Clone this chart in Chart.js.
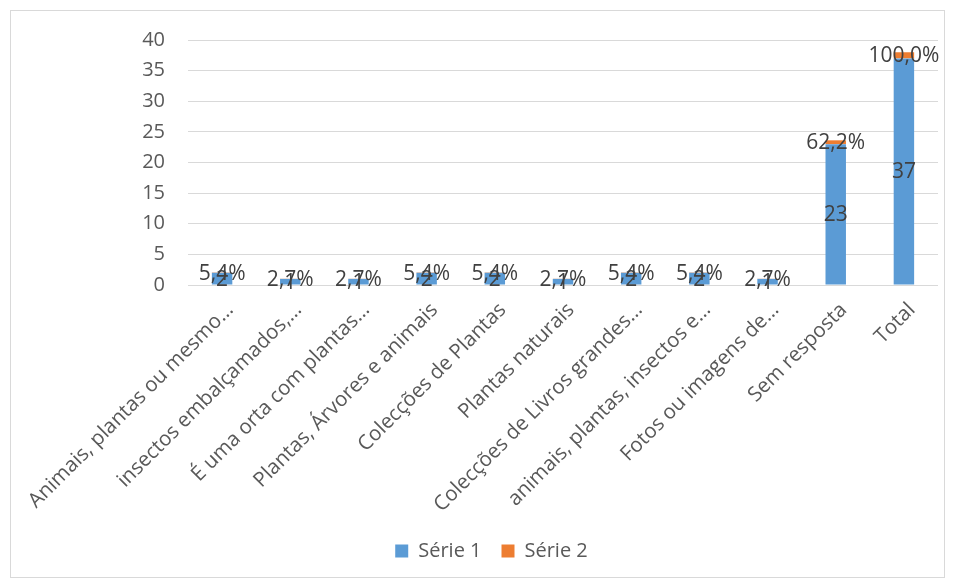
<!DOCTYPE html>
<html>
<head>
<meta charset="utf-8">
<script src="https://cdn.jsdelivr.net/npm/chart.js@4.4.1/dist/chart.umd.min.js"></script>
<style>
    html, body { margin: 0; padding: 0; background: #fff; }
    #box {
        position: absolute; left: 10px; top: 10px;
        width: 933px; height: 566px;
        border: 1px solid #d9d9d9;
    }
</style>
</head>
<body>
<div id="box"><canvas id="chart" width="933" height="566"></canvas></div>
<script>
// Categories (as truncated in the original chart)
const categories = [
    'Animais, plantas ou mesmo…',
    'insectos embalçamados,…',
    'É uma orta com plantas…',
    'Plantas, Árvores e animais',
    'Colecções de Plantas',
    'Plantas naturais',
    'Colecções de Livros grandes…',
    'animais, plantas, insectos e…',
    'Fotos ou imagens de…',
    'Sem resposta',
    'Total'
];

// Série 1: counts
const serie1 = [2, 1, 1, 2, 2, 1, 2, 2, 1, 23, 37];
// Série 2: share of total (shown as percent)
const serie2 = [0.054, 0.027, 0.027, 0.054, 0.054, 0.027, 0.054, 0.054, 0.027, 0.622, 1.0];

const yTicks = [0, 5, 10, 15, 20, 25, 30, 35, 40];

const FONT = "'Open Sans', sans-serif";

function fmtPercent(v) {
    return (v * 100).toFixed(1).replace('.', ',') + '%';
}

// Draw value labels centred in each bar segment
const segmentLabels = {
    id: 'segmentLabels',
    afterDatasetsDraw(chart) {
        const ctx = chart.ctx;
        ctx.save();
        ctx.font = '21px ' + FONT;
        ctx.fillStyle = '#404040';
        ctx.textAlign = 'center';
        ctx.textBaseline = 'middle';
        chart.data.datasets.forEach((ds, i) => {
            const meta = chart.getDatasetMeta(i);
            meta.data.forEach((bar, j) => {
                const p = bar.getProps(['x', 'y', 'base'], true);
                const text = i === 0 ? String(ds.data[j]) : fmtPercent(ds.data[j]);
                ctx.fillText(text, p.x, (p.y + p.base) / 2 + 1);
            });
        });
        ctx.restore();
    }
};

// legend sits a little right of centre in the original
const legendShift = {
    id: 'legendShift',
    beforeDraw(chart) {
        if (chart.legend && !chart.legend._shifted) {
            chart.legend.left += 17;
            chart.legend.right += 17;
            chart.legend._shifted = true;
        }
    }
};

new Chart(document.getElementById('chart'), {
    type: 'bar',
    data: {
        labels: categories,
        datasets: [
            {
                label: 'Série 1',
                data: serie1,
                backgroundColor: '#5B9BD5',
                barPercentage: 0.3,
                categoryPercentage: 1
            },
            {
                label: 'Série 2',
                data: serie2,
                backgroundColor: '#ED7D31',
                barPercentage: 0.3,
                categoryPercentage: 1
            }
        ]
    },
    options: {
        responsive: false,
        animation: false,
        layout: { padding: { top: 29, right: 6, left: 0, bottom: 6 } },
        plugins: {
            legend: {
                position: 'bottom',
                labels: {
                    font: { family: FONT, size: 20 },
                    color: '#595959',
                    boxWidth: 13,
                    boxHeight: 13,
                    padding: 20
                }
            },
            tooltip: { enabled: false }
        },
        scales: {
            x: {
                stacked: true,
                grid: { display: false },
                border: { display: false },
                ticks: {
                    font: { family: FONT, size: 20.5 },
                    color: '#595959',
                    minRotation: 45,
                    maxRotation: 45,
                    autoSkip: false,
                    padding: 5,
                    labelOffset: 8
                },
                afterFit(s) { s.height = 236; }
            },
            y: {
                stacked: true,
                min: 0,
                max: 40,
                afterBuildTicks(s) { s.ticks = yTicks.map(v => ({ value: v })); },
                grid: {
                    color: '#d9d9d9',
                    lineWidth: 1,
                    drawTicks: true,
                    tickLength: 17,
                    tickColor: 'rgba(0,0,0,0)'
                },
                border: { display: false },
                ticks: {
                    font: { family: FONT, size: 20 },
                    color: '#595959',
                    padding: 6
                },
                afterFit(s) { s.width = 177; }
            }
        }
    },
    plugins: [segmentLabels, legendShift]
});
</script>
</body>
</html>
